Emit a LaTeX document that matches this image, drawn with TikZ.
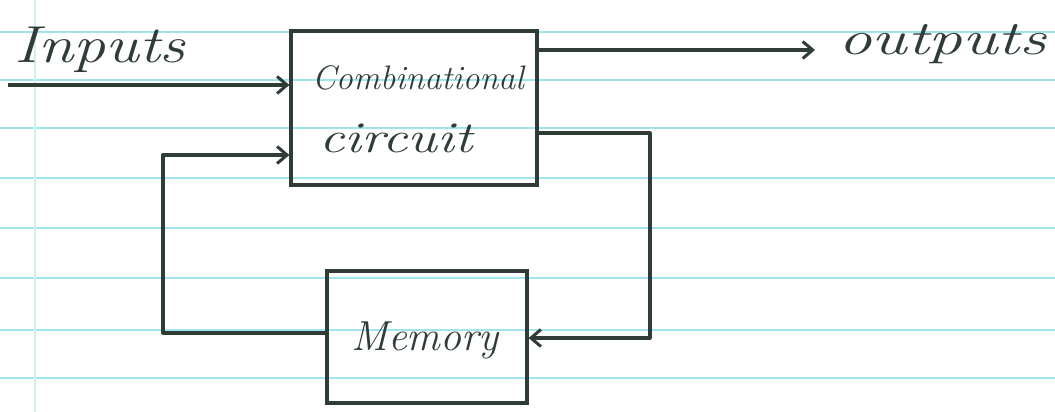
\documentclass[tikz,border=0pt]{standalone}
\usetikzlibrary{arrows.meta}
\definecolor{ink}{HTML}{2F3D36}
\definecolor{rule}{HTML}{9FE4EE}
\definecolor{margin}{HTML}{D6EEF2}
\tikzset{
  box/.style={draw=ink, line width=3.2pt, inner sep=0pt},
  wire/.style={draw=ink, line width=3.2pt, line join=round},
  arr/.style={wire, -{Straight Barb[length=10pt,width=17pt,line width=3pt]}},
  hand/.style={text=ink, inner sep=0pt},
  paper/.style={draw=rule, line width=1.6pt},
}
\begin{document}
\begin{tikzpicture}[x=1pt,y=-1pt]
\useasboundingbox (0,0) rectangle (1055,412);
\fill[white] (0,0) rectangle (1055,412);
% notebook paper
\foreach \yy in {32,80,128,178,228,278,330,378}
  \draw[paper] (0,\yy) -- (1055,\yy);
\draw[draw=margin, line width=1.2pt] (35,0) -- (35,412);
% blocks
\node[box, minimum width=246pt, minimum height=154pt] (comb) at (414,108) {};
\node[hand, font=\itshape\fontsize{34}{40}\selectfont] (combtxt1) at (418,78) {Combinational};
\node[hand, font=\itshape\fontsize{44}{48}\selectfont] (combtxt2) at (396,138) {\scalebox{1.28}[1]{circuit}};
\node[box, minimum width=200pt, minimum height=132pt] (mem) at (427,337) {};
\node[hand, font=\itshape\fontsize{42}{46}\selectfont] (memtxt) at (425,340) {Memory};
% labels
\node[hand, font=\itshape\fontsize{52}{56}\selectfont, anchor=west] (intxt) at (14,50) {\scalebox{1.23}[1]{Inputs}};
\node[hand, font=\itshape\fontsize{48}{52}\selectfont, anchor=west] (outtxt) at (838,44) {\scalebox{1.4}[1]{outputs}};
% connectors
\coordinate (in) at (8,85);
\draw[arr] (in) -- (in -| comb.west);
\coordinate (outend) at (815,50);
\draw[arr] (comb.east |- outend) -- (outend);
\coordinate (fbt) at (650,133);
\coordinate (fbb) at (650,338);
\draw[arr] (comb.east |- fbt) -- (fbt) -- (fbb) -- (mem.east |- fbb);
\coordinate (lb) at (163,333);
\coordinate (lt) at (163,155);
\draw[arr] (mem.west |- lb) -- (lb) -- (lt) -- (comb.west |- lt);
\end{tikzpicture}
\end{document}
